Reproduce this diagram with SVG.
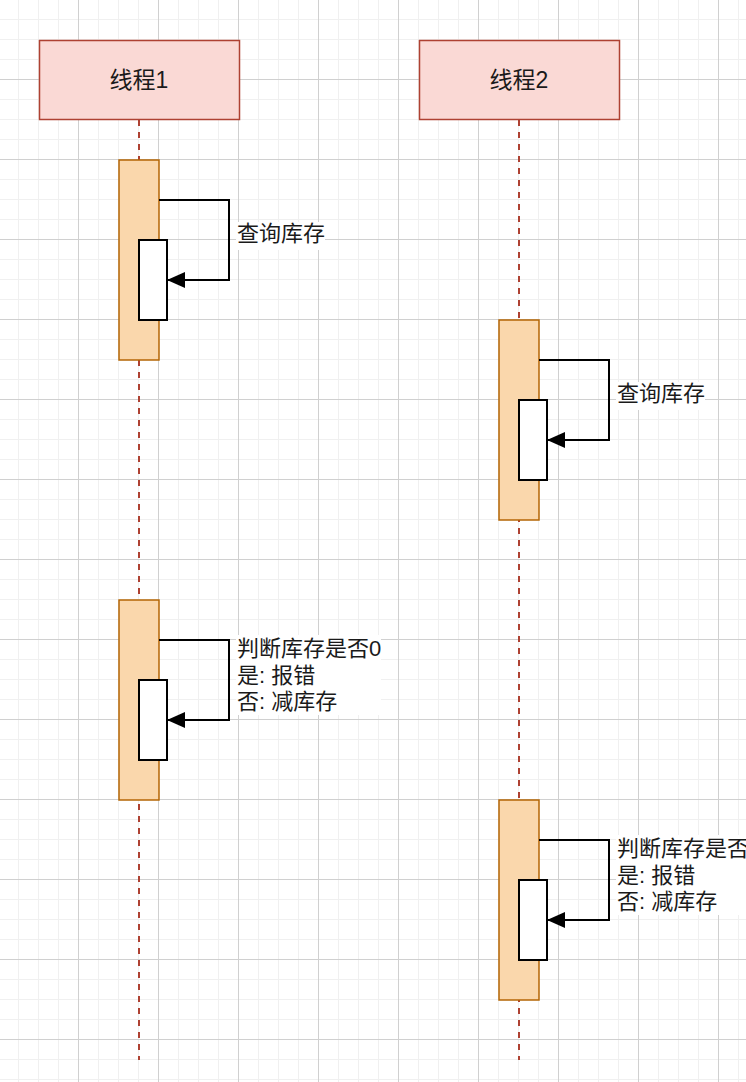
<svg xmlns="http://www.w3.org/2000/svg" width="746" height="1082" viewBox="0 0 746 1082">
<defs>
<pattern id="grid" patternUnits="userSpaceOnUse" x="-2" y="-1" width="80" height="80">
<rect width="80" height="80" fill="#ffffff"/>
<path d="M20.5 0V80M40.5 0V80M60.5 0V80M0 20.5H80M0 40.5H80M0 60.5H80" stroke="#f0f0f0" stroke-width="1" fill="none"/>
<path d="M0.5 0V80M0 0.5H80" stroke="#d0d0d0" stroke-width="1" fill="none"/>
</pattern>
<marker id="arr" markerUnits="userSpaceOnUse" markerWidth="18" markerHeight="16" refX="17" refY="8" orient="auto" viewBox="0 0 18 16">
<path d="M0 0L18 8L0 16Z" fill="#000"/>
</marker>
</defs>
<style>
.hdr{fill:#fad9d5;stroke:#ae4132;stroke-width:1.5}
.life{stroke:#ae4132;stroke-width:2;stroke-dasharray:6 6;fill:none}
.act{fill:#fad7ac;stroke:#b46504;stroke-width:1.5}
.inner{fill:#ffffff;stroke:#000;stroke-width:2}
.msg{fill:none;stroke:#000;stroke-width:2}
.t{font-family:"Liberation Sans","Noto Sans CJK SC",sans-serif;font-size:22px;fill:#1a1a1a}
.h{font-size:23px}
.lbg{fill:#ffffff}
</style>
<rect width="746" height="1082" fill="url(#grid)"/>
<g id="lifelines">
<line class="life" x1="139" y1="120" x2="139" y2="1060"/>
<line class="life" x1="519" y1="120" x2="519" y2="1060"/>
</g>
<g id="thread1">
<rect class="hdr" x="39.5" y="40.5" width="200" height="79"/>
<text class="t h" x="139" y="87.5" text-anchor="middle">线程1</text>
</g>
<g id="thread2">
<rect class="hdr" x="419.5" y="40.5" width="200" height="79"/>
<text class="t h" x="519" y="87.5" text-anchor="middle">线程2</text>
</g>
<g id="act1">
<rect class="act" x="119" y="160" width="40" height="200"/>
<rect class="inner" x="139" y="240" width="28" height="80"/>
</g>
<g id="act2">
<rect class="act" x="499" y="320" width="40" height="200"/>
<rect class="inner" x="519" y="400" width="28" height="80"/>
</g>
<g id="act3">
<rect class="act" x="119" y="600" width="40" height="200"/>
<rect class="inner" x="139" y="680" width="28" height="80"/>
</g>
<g id="act4">
<rect class="act" x="499" y="800" width="40" height="200"/>
<rect class="inner" x="519" y="880" width="28" height="80"/>
</g>
<g id="connectors">
<path class="msg" d="M159 200H229V280H168" marker-end="url(#arr)"/>
<path class="msg" d="M539 360H609V440H548" marker-end="url(#arr)"/>
<path class="msg" d="M159 640H229V720H168" marker-end="url(#arr)"/>
<path class="msg" d="M539 840H609V920H548" marker-end="url(#arr)"/>
</g>
<g id="labels">
<rect class="lbg" x="236" y="222" width="89" height="28"/>
<text class="t" x="237" y="241">查询库存</text>
<rect class="lbg" x="616" y="382" width="89" height="28"/>
<text class="t" x="617" y="401">查询库存</text>
<rect class="lbg" x="236" y="635" width="145" height="80"/>
<text class="t" x="237" y="656">判断库存是否0</text>
<text class="t" x="237" y="683">是: 报错</text>
<text class="t" x="237" y="709">否: 减库存</text>
<rect class="lbg" x="616" y="835" width="145" height="80"/>
<text class="t" x="617" y="856">判断库存是否0</text>
<text class="t" x="617" y="883">是: 报错</text>
<text class="t" x="617" y="909">否: 减库存</text>
</g>
</svg>
